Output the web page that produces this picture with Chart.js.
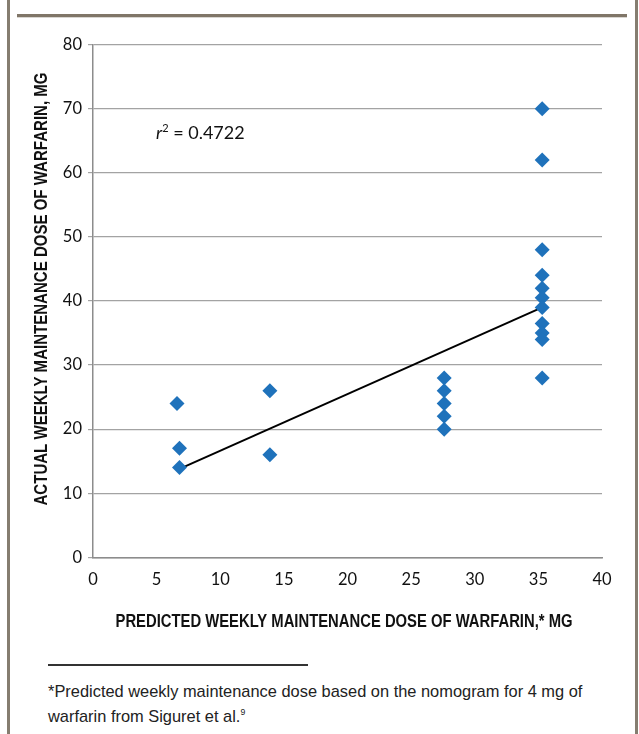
<!DOCTYPE html>
<html>
<head>
<meta charset="utf-8">
<script src="https://cdn.jsdelivr.net/npm/chart.js@4.4.1/dist/chart.umd.min.js"></script>
<style>
  html, body { margin: 0; padding: 0; background: #fff; overflow: hidden; }
  body { width: 639px; height: 734px; position: relative; }
  .frame-left, .frame-right { position: absolute; top: 0; width: 3px; height: 734px; background: #857d70; }
  .frame-left { left: 7px; }
  .frame-right { left: 635px; }
  .top-rule { position: absolute; left: 17px; top: 14px; width: 610px; height: 3px; background: #807668; border-bottom: 1px solid #d9d6d1; }
  .chart-box { position: absolute; left: 0; top: 0; width: 639px; height: 650px; }
  .note-rule { position: absolute; left: 48px; top: 664px; width: 260px; height: 1.5px; background: #333; }
  .note { position: absolute; left: 48px; top: 679px; font-family: "Liberation Sans", Arial, sans-serif; font-size: 17px; line-height: 25px; color: #222; transform: scaleX(0.965); transform-origin: 0 0; white-space: nowrap; }
  .note sup { font-size: 9px; vertical-align: 7px; line-height: 0; }
</style>
</head>
<body>
<div class="frame-left"></div>
<div class="frame-right"></div>
<div class="top-rule"></div>
<div class="chart-box"><canvas id="chart"></canvas></div>
<div class="note-rule"></div>
<div class="note">*Predicted weekly maintenance dose based on the nomogram for 4 mg of<br>warfarin from Siguret et al.<sup>9</sup></div>
<script>
// predicted vs actual weekly warfarin dose (mg)
const predictedDose = [6.6, 6.8, 6.8, 13.9, 13.9, 27.6, 27.6, 27.6, 27.6, 27.6,
  35.3, 35.3, 35.3, 35.3, 35.3, 35.3, 35.3, 35.3, 35.3, 35.3, 35.3];
const actualDose = [24, 17, 14, 26, 16, 28, 26, 24, 22, 20,
  70, 62, 48, 44, 42, 40.5, 39, 36.5, 35, 34, 28];

// fitted line, endpoints
const trendX = [6.8, 35.3];
const trendY = [13.8, 39.0];
const rSquared = '0.4722';

const xTicks = [0, 5, 10, 15, 20, 25, 30, 35, 40];
const yTicks = [0, 10, 20, 30, 40, 50, 60, 70, 80];

const xTitle = 'PREDICTED WEEKLY MAINTENANCE DOSE OF WARFARIN,* MG';
const yTitle = 'ACTUAL WEEKLY MAINTENANCE DOSE OF WARFARIN, MG';

const tickFont = { family: 'Lato, "Open Sans", sans-serif', size: 16.5 };

// narrow bold axis titles (no condensed face installed, so squeeze the regular one)
function drawNarrow(ctx, text, cx, cy, width, angle) {
  ctx.save();
  ctx.font = 'bold 18px "Liberation Sans", Arial, sans-serif';
  ctx.fillStyle = '#111';
  ctx.textAlign = 'center';
  ctx.textBaseline = 'middle';
  const sx = width / ctx.measureText(text).width;
  ctx.translate(cx, cy);
  ctx.rotate(angle);
  ctx.scale(sx, 1);
  ctx.fillText(text, 0, 0);
  ctx.restore();
}

const annotations = {
  id: 'annotations',
  afterDraw(chart) {
    const ctx = chart.ctx;
    drawNarrow(ctx, xTitle, 344, 622, 457, 0);
    drawNarrow(ctx, yTitle, 42, 289, 433, -Math.PI / 2);

    ctx.save();
    ctx.fillStyle = '#111';
    ctx.textBaseline = 'alphabetic';
    let x = 156, y = 139;
    ctx.font = 'italic 18px Lato, sans-serif';
    ctx.fillText('r', x, y);
    x += ctx.measureText('r').width;
    ctx.font = '11px Lato, sans-serif';
    ctx.fillText('2', x, y - 7);
    x += ctx.measureText('2').width;
    ctx.font = '18px Lato, sans-serif';
    ctx.fillText(' = ' + rSquared, x, y);
    ctx.restore();
  }
};

const points = predictedDose.map((x, i) => ({ x, y: actualDose[i] }));
const trend = trendX.map((x, i) => ({ x, y: trendY[i] }));

new Chart(document.getElementById('chart'), {
  type: 'scatter',
  data: {
    datasets: [{
      data: points,
      pointStyle: 'rectRot',
      pointRadius: 7.5,
      pointBackgroundColor: '#1f72bb',
      pointBorderColor: '#1f72bb',
      pointBorderWidth: 0
    }, {
      type: 'line',
      data: trend,
      showLine: true,
      borderColor: '#000',
      borderWidth: 2,
      pointRadius: 0,
      fill: false
    }]
  },
  options: {
    responsive: true,
    maintainAspectRatio: false,
    animation: false,
    layout: {
      padding: { left: 20, right: 37, top: 44.7, bottom: 12.7 }
    },
    plugins: {
      legend: { display: false },
      tooltip: { enabled: false }
    },
    scales: {
      x: {
        min: 0,
        max: 40,
        afterBuildTicks: s => { s.ticks = xTicks.map(v => ({ value: v })); },
        afterFit: s => { s.height = 80; },
        ticks: { color: '#111', font: tickFont, padding: 12 },
        grid: { drawOnChartArea: false, drawTicks: false },
        border: { color: '#8c8c8c', width: 1.5 }
      },
      y: {
        min: 0,
        max: 80,
        afterBuildTicks: s => { s.ticks = yTicks.map(v => ({ value: v })); },
        afterFit: s => { s.width = 73; },
        ticks: { color: '#111', font: tickFont, padding: 6 },
        grid: { color: '#a3a3a3', tickLength: 5, lineWidth: 1.2 },
        border: { color: '#8c8c8c', width: 1.5 }
      }
    }
  },
  plugins: [annotations]
});
</script>
</body>
</html>
